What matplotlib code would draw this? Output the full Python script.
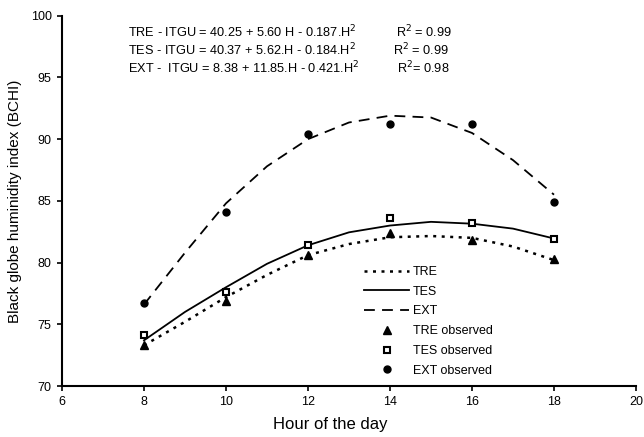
import matplotlib
matplotlib.use("Agg")
import matplotlib.pyplot as plt

plt.rcParams['font.family'] = ['Liberation Sans', 'DejaVu Sans']

# observed data
hours_obs = [8, 10, 12, 14, 16, 18]
tre_obs = [73.3, 76.9, 80.6, 82.4, 81.8, 80.3]
tes_obs = [74.1, 77.6, 81.4, 83.6, 83.2, 81.9]
ext_obs = [76.7, 84.1, 90.4, 91.2, 91.2, 84.9]

# fitted curves
hours_fit = [8, 9, 10, 11, 12, 13, 14, 15, 16, 17, 18]
tre_fit = [73.3, 75.2, 77.2, 79.0, 80.6, 81.5, 82.05, 82.15, 82.0, 81.3, 80.2]
tes_fit = [73.7, 76.0, 78.0, 79.9, 81.4, 82.45, 83.0, 83.3, 83.15, 82.75, 81.95]
ext_fit = [76.6, 80.8, 84.8, 87.8, 90.0, 91.35, 91.9, 91.75, 90.5, 88.3, 85.5]

xticks = [6, 8, 10, 12, 14, 16, 18, 20]
yticks = [70, 75, 80, 85, 90, 95, 100]

equations = [
    ("TRE - ITGU = 40.25 + 5.60 H - 0.187.H$^2$", "R$^2$ = 0.99"),
    ("TES - ITGU = 40.37 + 5.62.H - 0.184.H$^2$", "R$^2$ = 0.99"),
    ("EXT -  ITGU = 8.38 + 11.85.H - 0.421.H$^2$", "R$^2$= 0.98"),
]

fig = plt.figure(figsize=(6.44, 4.37), dpi=100)
ax = fig.add_axes([62/644, 1-386/437, (636-62)/644, (386-15.7)/437])

lw = 1.3
ax.plot(hours_fit, tre_fit, color='black', lw=1.8, linestyle=(0, (1.2, 2.2)), label='TRE')
ax.plot(hours_fit, tes_fit, color='black', lw=lw, linestyle='-', label='TES')
ax.plot(hours_fit, ext_fit, color='black', lw=lw, linestyle=(0, (6, 4)), label='EXT')
ax.plot(hours_obs, tre_obs, linestyle='none', marker='^', color='black', ms=6, label='TRE observed')
ax.plot(hours_obs, tes_obs, linestyle='none', marker='s', mfc='white', mec='black', mew=1.5, ms=4.5, label='TES observed')
ax.plot(hours_obs, ext_obs, linestyle='none', marker='o', color='black', ms=5, label='EXT observed')

ax.set_xlim(6, 20)
ax.set_ylim(70, 100)
ax.set_xticks(xticks)
ax.set_yticks(yticks)
ax.tick_params(direction='out', length=3.5, width=1.2, labelsize=9, pad=4)
for s in ['top', 'right']:
    ax.spines[s].set_visible(False)
for s in ['left', 'bottom']:
    ax.spines[s].set_linewidth(1.5)

ax.set_xlabel('Hour of the day', fontsize=12)
ax.xaxis.set_label_coords((330-62)/574, -0.085)
ax.set_ylabel('Black globe huminidity index (BCHI)', fontsize=11, labelpad=6)

leg = ax.legend(loc='upper left', bbox_to_anchor=((364-62)/574, 1-(266-15.7)/370.3),
                frameon=False, fontsize=9, handlelength=3.6, handletextpad=0.3,
                labelspacing=0.62, borderaxespad=0, borderpad=0)

ys = [32, 50, 68]
rx = [396, 393, 397]
for (eq, r2), y, x2 in zip(equations, ys, rx):
    fig.text(128/644, 1-y/437, eq, fontsize=9.2, va='center', ha='left')
    fig.text(x2/644, 1-y/437, r2, fontsize=9.2, va='center', ha='left')

fig.savefig('out.png', dpi=100)
